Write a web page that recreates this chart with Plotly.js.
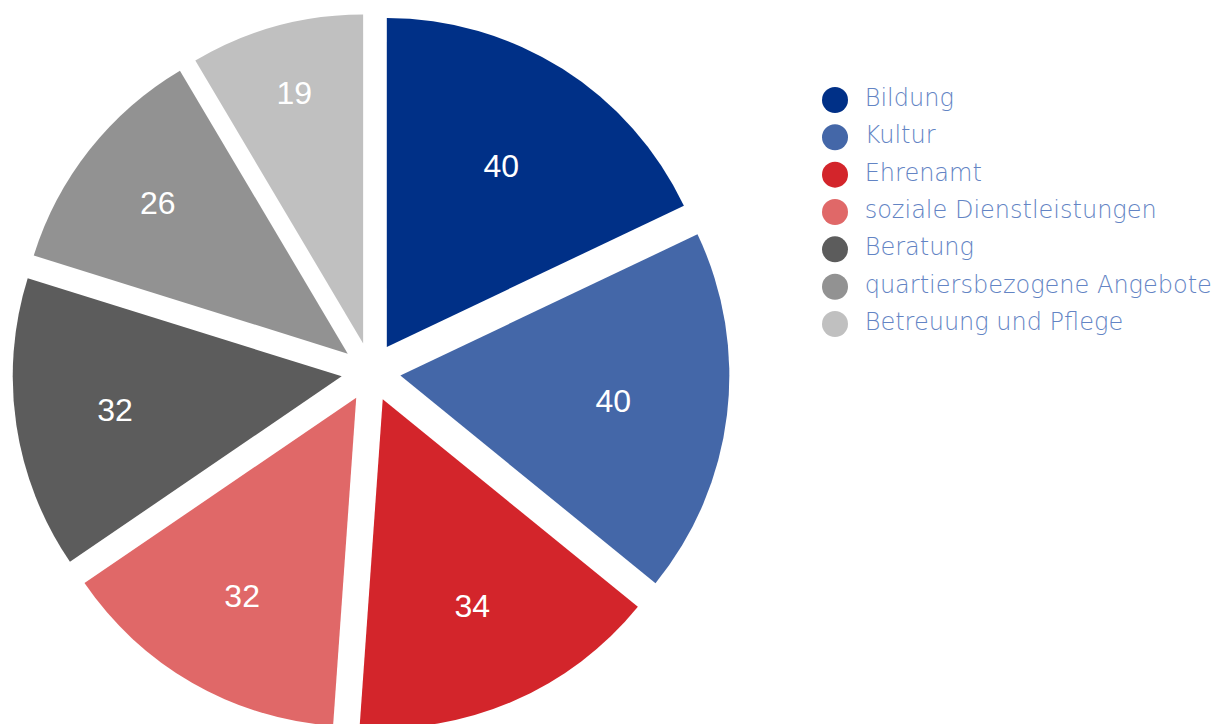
<!DOCTYPE html>
<html>
<head>
<meta charset="utf-8">
<script src="https://cdn.plot.ly/plotly-3.0.1.min.js"></script>
<style>
html,body{margin:0;padding:0;overflow:hidden;background:#fff;}
#chart{width:1220px;height:800px;}
</style>
</head>
<body>
<div id="chart"></div>
<script>
const categories = ["Bildung","Kultur","Ehrenamt","soziale Dienstleistungen","Beratung","quartiersbezogene Angebote","Betreuung und Pflege"];
const values = [40,40,34,32,32,26,19];
const colors = ["#003087","#4467A8","#D3252B","#E06868","#5C5C5C","#929292","#C0C0C0"];
const legendRows = categories.map((c,i)=>i);

const pie = {
  type:'pie',
  labels: categories,
  values: values,
  sort:false,
  direction:'clockwise',
  rotation:0,
  pull: values.map(()=>0.09),
  marker:{colors: colors, line:{width:0}},
  textinfo:'value',
  textposition:'inside',
  insidetextorientation:'horizontal',
  insidetextfont:{family:'Liberation Sans, Arial, sans-serif', size:32, color:'#ffffff'},
  showlegend:false,
  hoverinfo:'label+value',
  domain:{x:[0.01016,0.598], y:[0.08675,0.98325]}
};

const legendTrace = {
  type:'scatter',
  mode:'markers+text',
  x: legendRows.map(()=>0),
  y: legendRows,
  text: categories.map(c=>' \u2009'+c),
  textposition:'middle right',
  textfont:{family:'DejaVu Sans, sans-serif', size:24, color:'#6384C4', weight:200},
  marker:{size:26, color:colors, line:{width:0}},
  cliponaxis:false,
  showlegend:false,
  hoverinfo:'skip',
  xaxis:'x', yaxis:'y'
};

const layout = {
  width:1220, height:800,
  margin:{l:0,r:0,t:0,b:0},
  paper_bgcolor:'#ffffff',
  plot_bgcolor:'rgba(0,0,0,0)',
  showlegend:false,
  xaxis:{domain:[800/1220,1], range:[-35/420, 385/420], visible:false, fixedrange:true},
  yaxis:{domain:[0.5716,0.8984], range:[6.5,-0.5], visible:false, fixedrange:true}
};

Plotly.newPlot('chart',[pie, legendTrace],layout,{displayModeBar:false, staticPlot:true});
</script>
</body>
</html>
